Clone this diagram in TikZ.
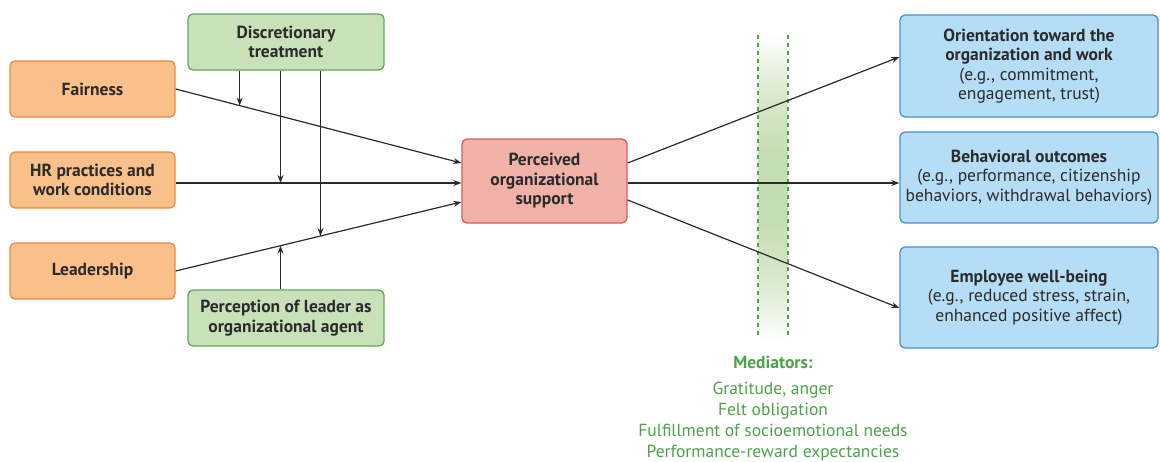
\documentclass[tikz,border=0pt]{standalone}
\usepackage{fontspec}
\setmainfont{PT Sans}
\usetikzlibrary{arrows.meta,calc}
\definecolor{txt}{HTML}{2B2B2B}
\definecolor{orfill}{HTML}{F9C08A}
\definecolor{ordraw}{HTML}{EC8A3E}
\definecolor{grfill}{HTML}{C8E1B9}
\definecolor{grdraw}{HTML}{62A85C}
\definecolor{rdfill}{HTML}{F0B1A9}
\definecolor{rddraw}{HTML}{D95C55}
\definecolor{blfill}{HTML}{B6DDF6}
\definecolor{bldraw}{HTML}{4590D4}
\definecolor{medgreen}{HTML}{4DA24A}
\definecolor{bandgreen}{HTML}{C3DCB1}
\definecolor{linec}{HTML}{2A2A2A}
\tikzset{
  box/.style={rounded corners=5pt, line width=1.3pt, text=txt, align=center,
    font=\fontsize{17.5}{19.5}\selectfont\bfseries, inner sep=2pt},
  orbox/.style={box, fill=orfill, draw=ordraw, minimum width=165pt, minimum height=56pt},
  grbox/.style={box, fill=grfill, draw=grdraw, minimum width=196pt, minimum height=56pt},
  rdbox/.style={box, fill=rdfill, draw=rddraw, minimum width=165pt, minimum height=84pt},
  blbox/.style={box, fill=blfill, draw=bldraw, minimum width=258pt},
  conn/.style={draw=linec, line width=1.2pt},
  arr/.style={conn, -{Stealth[length=8pt,width=6pt]}},
  medtxt/.style={text=medgreen, anchor=base, font=\fontsize{17.5}{21}\selectfont, inner sep=0pt},
  dashln/.style={medgreen, line width=1.1pt, dash pattern=on 4pt off 4pt}
}
\begin{document}
\begin{tikzpicture}[x=1pt,y=-1pt]
\useasboundingbox (0,0) rectangle (1160,461);
% mediator band (manual vertical gradient)
\foreach \i in {0,...,100} {
  \pgfmathsetmacro\t{abs(\i-50)/50}
  \pgfmathsetmacro\p{100*(1-\t*\t)}
  \fill[bandgreen!\p!white] (758,{35+\i*3.03}) rectangle (788,{35+(\i+1)*3.03+0.6});
}
\draw[dashln] (758,35) -- (758,338);
\draw[dashln] (788,35) -- (788,338);

% nodes
\node[orbox] (fair) at (92.5,89) {Fairness};
\node[orbox] (hr) at (92.5,180) {HR practices and\\work conditions};
\node[orbox] (lead) at (92.5,271) {Leadership};
\node[grbox] (disc) at (286,42) {Discretionary\\treatment};
\node[grbox] (perc) at (286,318) {Perception of leader as\\organizational agent};
\node[rdbox] (pos) at (544.5,181) {Perceived\\organizational\\support};
\node[blbox, minimum height=102pt] (o1) at (1029,66) {Orientation toward the\\organization and work\\{\mdseries (e.g., commitment,}\\{\mdseries engagement, trust)}};
\node[blbox, minimum height=91pt] (o2) at (1029,177.5) {Behavioral outcomes\\{\mdseries (e.g., performance, citizenship}\\{\mdseries behaviors, withdrawal behaviors)}};
\node[blbox, minimum height=101pt] (o3) at (1029,297.5) {Employee well-being\\{\mdseries (e.g., reduced stress, strain,}\\{\mdseries enhanced positive affect)}};

% anchor coordinates
\coordinate (pin1) at ($(pos.west)+(0,-18)$);
\coordinate (pin2) at ($(pos.west)+(0,2)$);
\coordinate (pin3) at ($(pos.west)+(0,21)$);
\coordinate (pout1) at ($(pos.east)+(0,-18)$);
\coordinate (pout2) at ($(pos.east)+(0,2)$);
\coordinate (pout3) at ($(pos.east)+(0,19)$);

% input arrows
\draw[arr] (fair.east) -- (pin1) coordinate[pos=0.224] (m1);
\draw[arr] (hr.east |- pin2) -- (pin2) coordinate[pos=0.367] (m2);
\draw[arr] (lead.east) -- (pin3) coordinate[pos=0.507] (m3) coordinate[pos=0.367] (m4);

% moderator arrows
\draw[arr] (disc.south -| m1) -- (m1);
\draw[arr] (disc.south -| m2) -- (m2);
\draw[arr] (disc.south -| m3) -- (m3);
\draw[arr] (perc.north -| m4) -- (m4);

% output arrows
\draw[arr] (pout1) -- ($(o1.west)+(0,-9)$);
\draw[arr] (pout2) -- (pout2 -| o2.west);
\draw[arr] (pout3) -- ($(o3.west)+(0,10.5)$);

% mediators
\node[medtxt, font=\fontsize{17.5}{21}\selectfont\bfseries] (med0) at (773,368) {Mediators:};
\node[medtxt] (med1) at (773,394) {Gratitude, anger};
\node[medtxt] (med2) at (773,415) {Felt obligation};
\node[medtxt] (med3) at (773,436.5) {Fulfillment of socioemotional needs};
\node[medtxt] (med4) at (773,457.5) {Performance-reward expectancies};
\end{tikzpicture}
\end{document}
